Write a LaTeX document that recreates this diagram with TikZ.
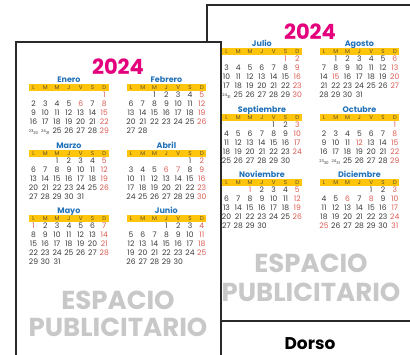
\documentclass[tikz,border=0pt]{standalone}
\usepackage{fontspec}
\setmainfont{Poppins}
\definecolor{calblue}{HTML}{2272B9}
\definecolor{barY}{HTML}{FFC40C}
\definecolor{calred}{HTML}{DC5A52}
\definecolor{numgray}{HTML}{3A3A3A}
\definecolor{daygray}{HTML}{5A5030}
\definecolor{magenta24}{HTML}{E4007C}
\definecolor{espgray}{HTML}{C8C8C8}
\definecolor{cardline}{HTML}{2A2A2A}
\newcommand\Rd[1]{\textcolor{calred}{#1}}
\newcommand\Bk{}
\newcommand\Tw[2]{\raisebox{1.6pt}{\fontsize{3.9}{4}\selectfont#1}\kern0.1pt\raisebox{-1.2pt}{\fontsize{3.9}{4}\selectfont#2}}
\newcommand\mrow[3]{\foreach \v [count=\c from 0] in {#3} {\node[num] at ({#1+\c*11.8},{#2}) {\v};}}
\newcommand\calmonth[8]{%
  \node[mtitle] at ({#1+35.4},{#2}) {#3};
  \fill[barY] ({#1-4.5},{#2+4.2}) rectangle ({#1+75.3},{#2+10.8});
  \foreach \d [count=\c from 0] in {L,M,M,J,V,S,D} {\node[dayl] at ({#1+\c*11.8},{#2+7.5}) {\d};}
  \mrow{#1}{#2+15}{#4}
  \mrow{#1}{#2+24}{#5}
  \mrow{#1}{#2+33}{#6}
  \mrow{#1}{#2+42}{#7}
  \mrow{#1}{#2+51}{#8}
}
\begin{document}
\begin{tikzpicture}[x=1pt,y=-1pt,
  num/.style={font=\fontsize{7.6}{8}\selectfont, text=numgray, inner sep=0pt, text height=5.4pt, text depth=0pt, anchor=center},
  mtitle/.style={font=\bfseries\fontsize{8}{9}\selectfont, text=calblue, inner sep=0pt, text height=5.8pt, text depth=0pt},
  dayl/.style={font=\fontsize{5.6}{6}\selectfont, text=daygray, inner sep=0pt, text height=4pt, text depth=0pt},
  bigyear/.style={font=\bfseries\fontsize{21}{22}\selectfont, text=magenta24, inner sep=0pt, text height=14.6pt, text depth=0pt},
  espacio/.style={font=\bfseries\fontsize{26}{28}\selectfont, text=espgray, inner sep=0pt, text height=18.2pt, text depth=0pt},
  dorso/.style={font=\bfseries\fontsize{17}{18}\selectfont, text=black, inner sep=0pt, text height=12pt, text depth=0pt},
  card/.style={draw=cardline, line width=1.6pt, fill=white}]
\useasboundingbox (0,0) rectangle (410,354);
\clip (0,0) rectangle (410,354);
% ---------- back card (Dorso) ----------
\draw[card] (207,5) rectangle (430,321);
\node[bigyear] (yearB) at (310,32) {2024};
\calmonth{226.5}{44}{Julio}
  {\Bk,\Bk,\Bk,\Bk,\Bk,\Rd{1},\Rd{2}}
  {3,4,5,6,7,8,\Rd{9}}
  {10,11,12,13,14,15,\Rd{16}}
  {17,18,19,20,21,22,\Rd{23}}
  {\Tw{24}{31},25,26,27,28,29,\Rd{30}}
\calmonth{324}{44}{Agosto}
  {\Bk,1,2,3,4,5,\Rd{6}}
  {7,8,9,10,11,12,\Rd{13}}
  {14,\Rd{15},16,17,18,19,\Rd{20}}
  {21,22,23,24,25,26,\Rd{27}}
  {28,29,30,31}
\calmonth{226.5}{110}{Septiembre}
  {\Bk,\Bk,\Bk,\Bk,1,2,\Rd{3}}
  {4,5,6,7,8,9,\Rd{10}}
  {11,12,13,14,15,16,\Rd{17}}
  {18,19,20,21,22,23,\Rd{24}}
  {25,26,27,28,29,30}
\calmonth{324}{110}{Octubre}
  {\Bk,\Bk,\Bk,\Bk,\Bk,\Bk,\Rd{1}}
  {2,3,4,5,6,7,\Rd{8}}
  {9,10,11,\Rd{12},13,14,\Rd{15}}
  {16,17,18,19,20,21,\Rd{22}}
  {\Tw{23}{30},\Tw{24}{31},25,26,27,28,\Rd{29}}
\calmonth{226.5}{175}{Noviembre}
  {\Bk,\Bk,\Rd{1},2,3,4,\Rd{5}}
  {6,7,8,9,10,11,\Rd{12}}
  {13,14,15,16,17,18,\Rd{19}}
  {20,21,22,23,24,25,\Rd{26}}
  {27,28,29,30}
\calmonth{324}{175}{Diciembre}
  {\Bk,\Bk,\Bk,\Bk,1,2,\Rd{3}}
  {4,5,\Rd{6},7,\Rd{8},9,\Rd{10}}
  {11,12,13,14,15,16,\Rd{17}}
  {18,19,20,21,22,23,\Rd{24}}
  {\Rd{25},26,27,28,29,30,\Rd{31}}
\node[espacio] (espB1) at (311,263) {ESPACIO};
\node[espacio] (espB2) at (311,292) {PUBLICITARIO};
\node[dorso] (dorso) at (310,343) {Dorso};
% ---------- front card ----------
\draw[card] (16,42) rectangle (221,380);
\node[bigyear] (yearF) at (118,67.5) {2024};
\calmonth{33.5}{80}{Enero}
  {\Bk,\Bk,\Bk,\Bk,\Bk,\Bk,\Rd{1}}
  {2,3,4,5,\Rd{6},7,\Rd{8}}
  {9,10,11,12,13,14,\Rd{15}}
  {16,17,18,19,20,21,\Rd{22}}
  {\Tw{23}{30},\Tw{24}{31},25,26,27,28,\Rd{29}}
\calmonth{131}{80}{Febrero}
  {\Bk,\Bk,1,2,3,4,\Rd{5}}
  {6,7,8,9,10,11,\Rd{12}}
  {13,14,15,16,17,18,\Rd{19}}
  {20,21,22,23,24,25,\Rd{26}}
  {27,28}
\calmonth{33.5}{146}{Marzo}
  {\Bk,\Bk,1,2,3,4,\Rd{5}}
  {6,7,8,9,10,11,\Rd{12}}
  {13,14,15,16,17,18,\Rd{19}}
  {20,21,22,23,24,25,\Rd{26}}
  {27,28,29,30,31}
\calmonth{131}{146}{Abril}
  {\Bk,\Bk,\Bk,\Bk,\Bk,1,\Rd{2}}
  {3,4,5,\Rd{6},\Rd{7},8,\Rd{9}}
  {10,11,12,13,14,15,\Rd{16}}
  {17,18,19,20,21,22,\Rd{23}}
  {24,25,26,27,28,29,\Rd{30}}
\calmonth{33.5}{211}{Mayo}
  {\Rd{1},2,3,4,5,6,\Rd{7}}
  {8,9,10,11,12,13,\Rd{14}}
  {15,16,17,18,19,20,\Rd{21}}
  {22,23,24,25,26,27,\Rd{28}}
  {29,30,31}
\calmonth{131}{211}{Junio}
  {\Bk,\Bk,\Bk,1,2,3,\Rd{4}}
  {5,6,7,8,9,10,\Rd{11}}
  {12,13,14,15,16,17,\Rd{18}}
  {19,20,21,22,23,24,\Rd{25}}
  {26,27,28,29,30}
\node[espacio] (espF1) at (118,300) {ESPACIO};
\node[espacio] (espF2) at (118,327) {PUBLICITARIO};
\end{tikzpicture}
\end{document}
